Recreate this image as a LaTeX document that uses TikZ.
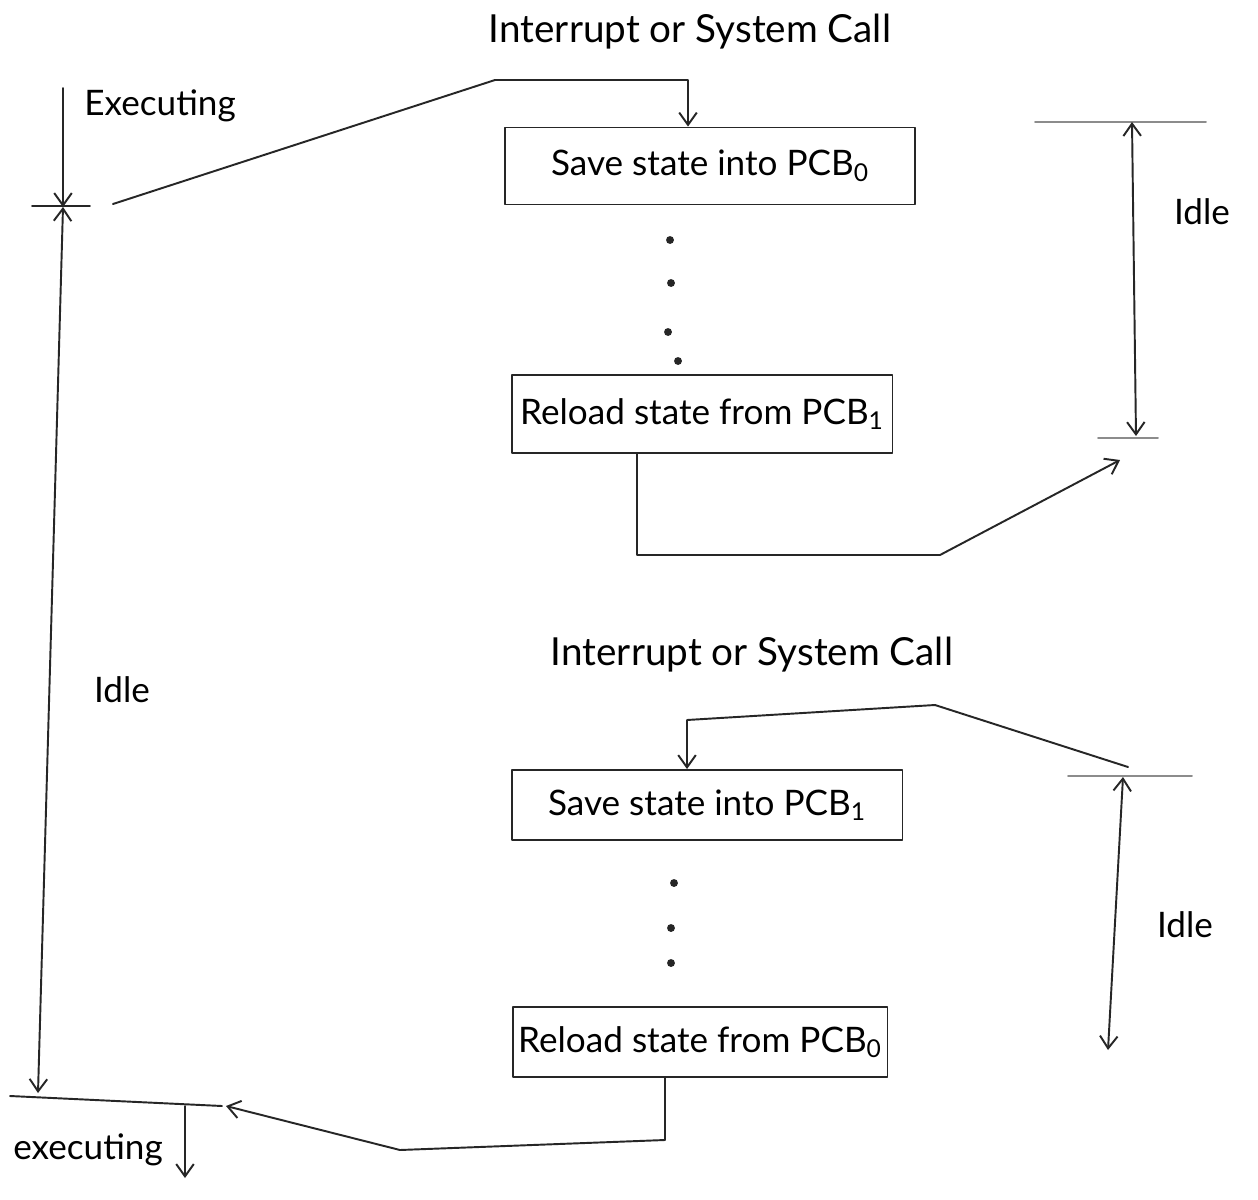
\documentclass[tikz,border=0pt]{standalone}
\usepackage{fontspec}
\setmainfont{Lato}
\usetikzlibrary{arrows.meta}
\begin{document}
\begin{tikzpicture}[x=0.02cm, y=-0.02cm,
  ink/.style={draw=black!85, line width=1.1pt, line join=round, line cap=round},
  faint/.style={draw=black!45, line width=1.1pt, line cap=round},
  arr/.style={ink, -{Straight Barb[length=7pt,width=10pt]}},
  darr/.style={ink, {Straight Barb[length=7pt,width=10pt]}-{Straight Barb[length=7pt,width=10pt]}},
  stepbox/.style={ink, draw, rectangle, inner sep=0pt, font=\fontsize{20}{24}\selectfont},
  lbl/.style={font=\fontsize{20}{24}\selectfont, inner sep=1pt},
  title/.style={font=\fontsize{22}{26}\selectfont, inner sep=1pt},
  dot/.style={circle, fill=black!85, inner sep=0pt, minimum size=4.5pt}]

% page area
\path[use as bounding box] (0,0) rectangle (1258,1200);
\fill[white] (0,0) rectangle (1258,1200);

% process boxes
\node[stepbox, minimum width=8.2cm, minimum height=1.54cm] (b1) at (710,166) {Save state into PCB\textsubscript{0}};
\node[stepbox, minimum width=7.62cm, minimum height=1.56cm] (b2) at (702,414) {Reload state from PCB\textsubscript{1}};
\node[stepbox, minimum width=7.82cm, minimum height=1.4cm] (b3) at (707,805) {Save state into PCB\textsubscript{1}};
\node[stepbox, minimum width=7.5cm, minimum height=1.4cm] (b4) at (700,1042) {Reload state from PCB\textsubscript{0}};

% headings and labels
\node[title] (t1) at (690,32) {Interrupt or System Call};
\node[title] (t2) at (752,655) {Interrupt or System Call};
\node[lbl] (lexec) at (160,106) {Executing};
\node[lbl] (lidleL) at (122,690) {Idle};
\node[lbl] (lidleR1) at (1202,212) {Idle};
\node[lbl] (lidleR2) at (1185,925) {Idle};
\node[lbl] (lexec2) at (88,1150) {executing};

% ellipsis dots between boxes
\node[dot] (d1) at (670,240) {};
\node[dot] (d2) at (671,283) {};
\node[dot] (d3) at (668,332) {};
\node[dot] (d4) at (678,361) {};
\node[dot] (d5) at (674,883) {};
\node[dot] (d6) at (671,928) {};
\node[dot] (d7) at (671,963) {};

% helper coordinates
\coordinate (p0top) at (63,88);
\coordinate (p0tick) at (63,207);
\coordinate (p0end) at (38,1093);
\coordinate (tickL1) at (32,206);
\coordinate (tickR1) at (90,206);
\coordinate (irq1s) at (113,204);
\coordinate (irq1a) at (495,80);
\coordinate (irq1b) at (688,80);
\coordinate (x1) at (688,0);
\coordinate (x2) at (637,0);
\coordinate (r1a) at (637,555);
\coordinate (r1b) at (940,555);
\coordinate (r1e) at (1120,460);
\coordinate (hA1) at (1035,122);
\coordinate (hA2) at (1206,122);
\coordinate (hB1) at (1098,438);
\coordinate (hB2) at (1158,438);
\coordinate (iA) at (1132,122);
\coordinate (iB) at (1136,436);
\coordinate (irq2s) at (1128,767);
\coordinate (irq2a) at (935,705);
\coordinate (irq2b) at (687,720);
\coordinate (x3) at (687,0);
\coordinate (hC1) at (1068,776);
\coordinate (hC2) at (1192,776);
\coordinate (jA) at (1123,777);
\coordinate (jB) at (1108,1050);
\coordinate (bl1) at (10,1096);
\coordinate (bl2) at (222,1106);
\coordinate (dn1) at (185,1106);
\coordinate (dn2) at (185,1178);
\coordinate (x4) at (665,0);
\coordinate (r2a) at (665,1140);
\coordinate (r2b) at (400,1150);
\coordinate (r2e) at (226,1106);

% left time line
\draw[arr] (p0top) -- (p0tick);
\draw[ink] (tickL1) -- (tickR1);
\draw[darr] (p0tick) -- (p0end);
\draw[ink] (bl1) -- (bl2);
\draw[arr] (dn1) -- (dn2);

% first switch
\draw[arr] (irq1s) -- (irq1a) -- (irq1b) -- (b1.north -| x1);
\draw[arr] (b2.south -| x2) -- (r1a) -- (r1b) -- (r1e);
\draw[faint] (hA1) -- (hA2);
\draw[faint] (hB1) -- (hB2);
\draw[darr] (iA) -- (iB);

% second switch
\draw[arr] (irq2s) -- (irq2a) -- (irq2b) -- (b3.north -| x3);
\draw[faint] (hC1) -- (hC2);
\draw[darr] (jA) -- (jB);
\draw[arr] (b4.south -| x4) -- (r2a) -- (r2b) -- (r2e);
\end{tikzpicture}
\end{document}
